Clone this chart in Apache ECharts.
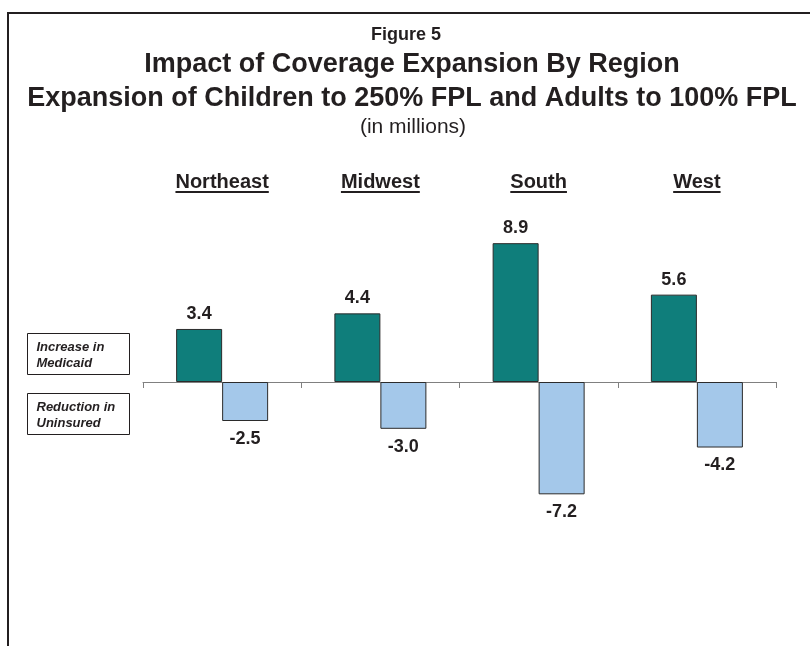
<!DOCTYPE html>
<html>
<head>
<meta charset="utf-8">
<script src="https://cdn.jsdelivr.net/npm/echarts@6/dist/echarts.min.js"></script>
<style>
  html, body { margin: 0; padding: 0; background: #fff; }
  #chart { width: 810px; height: 646px; }
</style>
</head>
<body>
<div id="chart"></div>
<script>
const regions = ["Northeast", "Midwest", "South", "West"];
const medicaidIncrease = [3.4, 4.4, 8.9, 5.6];
const uninsuredReduction = [-2.5, -3.0, -7.2, -4.2];

const FONT = "Liberation Sans, Arial, sans-serif";
const TEAL = "#0f7e7b";
const LIGHT = "#a4c8ea";
const GRID_TOP = 226;
const TOP_MARGIN = 34;
const CAT_FONT = 20;

const chart = echarts.init(document.getElementById("chart"));

const valueLabel = (pos) => ({
  show: true,
  position: pos,
  distance: pos === "top" ? 6 : 9,
  fontFamily: FONT,
  fontWeight: "bold",
  fontSize: 18,
  color: "#231f20",
  formatter: (p) => p.value.toFixed(1),
});

const option = {
  animation: false,
  backgroundColor: "#fff",
  title: [
    { text: "Figure 5", left: 401, top: 21, textAlign: "center",
      textStyle: { fontFamily: FONT, fontSize: 18, fontWeight: "bold", color: "#231f20" } },
    { text: "Impact of Coverage Expansion By Region", left: 407, top: 46, textAlign: "center",
      textStyle: { fontFamily: FONT, fontSize: 27, fontWeight: "bold", color: "#231f20" } },
    { text: "Expansion of Children to 250% FPL and Adults to 100% FPL", left: 407, top: 80, textAlign: "center",
      textStyle: { fontFamily: FONT, fontSize: 27, fontWeight: "bold", color: "#231f20" } },
    { text: "(in millions)", left: 408, top: 112, textAlign: "center",
      textStyle: { fontFamily: FONT, fontSize: 21, fontWeight: "normal", color: "#231f20" } },
  ],
  grid: { left: 143, right: 34, top: GRID_TOP, height: 312 },
  xAxis: [
    {
      type: "category",
      data: regions,
      position: "bottom",
      axisLine: { onZero: true, lineStyle: { color: "#808080", width: 1 } },
      axisTick: { show: true, length: 6, lineStyle: { color: "#808080" } },
      axisLabel: { show: false },
      splitLine: { show: false },
    },
    {
      type: "category",
      data: regions,
      position: "top",
      axisLine: { show: false },
      axisTick: { show: false },
      axisLabel: {
        margin: TOP_MARGIN,
        fontFamily: FONT,
        fontWeight: "bold",
        fontSize: CAT_FONT,
        color: "#231f20",
      },
    },
  ],
  yAxis: {
    type: "value",
    min: -10,
    max: 10,
    show: false,
    splitLine: { show: false },
  },
  series: [
    {
      name: "Increase in Medicaid",
      type: "bar",
      data: medicaidIncrease,
      barWidth: 46,
      barGap: "0%",
      itemStyle: { color: TEAL, borderColor: "#2b2b2b", borderWidth: 1 },
      label: valueLabel("top"),
    },
    {
      name: "Reduction in Uninsured",
      type: "bar",
      data: uninsuredReduction,
      barWidth: 46,
      barGap: "0%",
      itemStyle: { color: LIGHT, borderColor: "#2b2b2b", borderWidth: 1 },
      label: valueLabel("bottom"),
    },
  ],
};

chart.setOption(option);

// underline the region headers, positioned from the top category axis
const ctx = document.createElement("canvas").getContext("2d");
ctx.font = "bold " + CAT_FONT + "px " + FONT;
const ulY = 192;
const underlines = regions.map((r) => {
  const cx = chart.convertToPixel({ xAxisIndex: 1 }, r);
  const w = ctx.measureText(r).width;
  return {
    type: "line",
    shape: { x1: cx - w / 2, y1: ulY, x2: cx + w / 2, y2: ulY },
    style: { stroke: "#231f20", lineWidth: 2 },
  };
});

const legendBox = (top, lines) => ({
  type: "group",
  left: 27,
  top: top,
  children: [
    { type: "rect", shape: { x: 0, y: 0, width: 102, height: 41 },
      style: { fill: "#fff", stroke: "#231f20", lineWidth: 1 } },
    { type: "text", x: 9, y: 6,
      style: { text: lines, fontFamily: FONT, fontSize: 13, fontWeight: "bold",
               fontStyle: "italic", lineHeight: 16, fill: "#231f20" } },
  ],
});

chart.setOption({
  graphic: [
    { type: "polyline", shape: { points: [[8, 646], [8, 13], [810, 13]] },
      style: { stroke: "#231f20", lineWidth: 2, fill: null } },
    legendBox(333, "Increase in\nMedicaid"),
    legendBox(393, "Reduction in\nUninsured"),
    ...underlines,
  ],
});
</script>
</body>
</html>
